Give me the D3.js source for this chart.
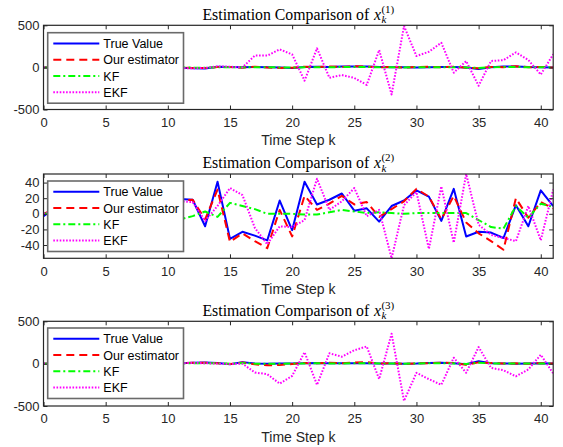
<!DOCTYPE html>
<html><head><meta charset="utf-8">
<script src="https://cdn.jsdelivr.net/npm/d3@7"></script>
<style>body{margin:0;background:#fff}svg{display:block}</style>
</head><body><svg id="c" width="563" height="447"></svg>
<script>
// ---- data ----
const steps = [0,1,2,3,4,5,6,7,8,9,10,11,12,13,14,15,16,17,18,19,20,21,22,23,24,25,26,27,28,29,30,31,32,33,34,35,36,37,38,39,40,41];
const xTicks = [0,5,10,15,20,25,30,35,40];
const seriesNames = ["True Value","Our estimator","KF","EKF"];

// x^(1)
const true1 = [0,2,-3,4,6,-2,5,8,3,-4,6,-5,-10,-12,8,5,2,5,3,0,-8,5,8,6,10,12,10,5,3,2,0,3,6,5,0,-20,2,10,12,5,2,0];
const ours1 = [0,3,-2,6,4,-4,7,6,5,-2,4,-3,-6,-8,5,4,-3,8,-2,-6,-5,8,4,10,6,15,8,2,7,-3,5,8,2,9,-4,-10,6,3,15,2,6,-2];
const kf1   = [0,1,0,2,3,1,2,4,2,0,3,-1,-3,-4,2,3,0,2,1,0,-2,1,3,2,4,5,4,2,1,0,1,2,3,2,0,-6,1,4,5,2,1,0];
const ekf1  = [0,4,-6,8,10,-4,9,12,6,-8,10,-8,-10,-6,12,8,0,140,140,214,154,-158,226,-123,-91,-125,-208,206,-321,491,135,186,293,-63,75,-218,76,86,178,88,-85,155];
const yTicks1 = [-500,0,500];

// x^(2)
const true2 = [-3,8,-12,15,22,-5,10,-18,5,12,20,19,18,-16,41,-32,-23,-28,-34,17,-21,41,12,18,26,4,7,-10,10,17,30,22,-9,32,-29,-23,-24,-31,11,-16,30,10];
const ours2 = [0,6,-9,13,20,-3,12,-14,6,10,18,17,18,-7,31,-36,-25,-35,-44,5,-29,23,5,13,23,12,15,-4,6,16,32,22,-7,23,-11,-25,-35,-46,20,-5,15,7];
const kf2   = [0,2,-1,3,5,2,4,-2,1,3,4,-7,-3,3,-4,14,10,6,0,0,0,-1,-1,2,5,3,1,2,1,0,1,1,1,1,1,-8,-17,-19,10,-5,13,9];
const ekf2  = [0,5,-10,12,18,-6,9,-20,8,14,22,16,15,-9,10,33,24,-18,-39,-16,-17,-8,45,5,16,33,-3,5,-57,11,28,-45,35,-37,51,-14,-27,-31,-35,10,-34,31];
const yTicks2 = [-40,-20,0,20,40];

// x^(3)
const true3 = [0,3,5,-2,6,4,8,-3,5,7,4,5,12,15,8,-8,18,2,0,2,3,5,8,6,4,6,5,3,2,0,2,8,12,5,-8,28,5,3,0,2,5,3];
const ours3 = [0,4,6,-1,5,6,7,-2,4,8,5,6,10,12,5,-5,14,-8,-20,-15,-5,8,4,10,6,12,18,2,6,-3,4,6,10,8,-12,15,8,2,4,0,6,2];
const kf3   = [0,1,2,0,3,2,4,0,2,3,2,2,5,6,3,-2,7,0,-2,-1,1,3,4,3,2,4,5,2,1,0,2,4,6,3,-3,10,3,2,1,1,3,2];
const ekf3  = [0,5,8,-4,9,7,10,-6,8,9,6,5,8,5,0,-5,0,-104,-125,-236,-145,135,-250,122,82,158,203,-182,353,-440,-108,-183,-250,70,-108,196,-50,-78,-150,-68,105,-115];
const yTicks3 = [-500,0,500];

// ---- layout ----
const svg = d3.select("#c");
const L = 43.5, R = 553.2;
const panels = [
  {sup:"(1)", top:25.3, bottom:109.5, yDom:[-500,500], yTicks:yTicks1, series:[true1,ours1,kf1,ekf1], legTop:32.7},
  {sup:"(2)", top:174.0, bottom:258.3, yDom:[-57,51],  yTicks:yTicks2, series:[true2,ours2,kf2,ekf2], legTop:181.0},
  {sup:"(3)", top:321.3, bottom:406.0, yDom:[-500,500], yTicks:yTicks3, series:[true3,ours3,kf3,ekf3], legTop:328.0}
];
const styles = [
  {color:"#0000ff", dash:null},
  {color:"#ff0000", dash:"8,5"},
  {color:"#00ff00", dash:"7,3,2,3"},
  {color:"#ff00ff", dash:"1.6,1.6"}
];
const axisColor = "#262626";
const sansFont = "'Liberation Sans', Arial, Helvetica, sans-serif";
const serifFont = "'Liberation Serif', 'Times New Roman', serif";
const titleSize = 15.8;

const x = d3.scaleLinear().domain([0,41]).range([L,R]);

panels.forEach((p,pi) => {
  const y = d3.scaleLinear().domain(p.yDom).range([p.bottom,p.top]);
  const g = svg.append("g");
  const clipId = "clip"+pi;
  svg.append("defs").append("clipPath").attr("id",clipId)
    .append("rect").attr("x",L).attr("y",p.top).attr("width",R-L).attr("height",p.bottom-p.top);

  // data lines
  const line = d3.line().x((d,i)=>x(steps[i])).y(d=>y(d));
  const lg = g.append("g").attr("clip-path",`url(#${clipId})`);
  p.series.forEach((s,si) => {
    lg.append("path").datum(s).attr("d",line)
      .attr("fill","none").attr("stroke",styles[si].color)
      .attr("stroke-width",2).attr("stroke-dasharray",styles[si].dash)
      .attr("stroke-linejoin","round");
  });

  // axes
  const fmt = d => String(d);
  const bottomAx = d3.axisBottom(x).tickValues(xTicks).tickSize(-4).tickPadding(8).tickFormat(fmt);
  const topAx = d3.axisTop(x).tickValues(xTicks).tickSize(-4).tickFormat("");
  const leftAx = d3.axisLeft(y).tickValues(p.yTicks).tickSize(-4).tickPadding(4).tickFormat(fmt);
  const rightAx = d3.axisRight(y).tickValues(p.yTicks).tickSize(-4).tickFormat("");
  const axes = [
    g.append("g").attr("transform",`translate(0,${p.bottom})`).call(bottomAx),
    g.append("g").attr("transform",`translate(0,${p.top})`).call(topAx),
    g.append("g").attr("transform",`translate(${L},0)`).call(leftAx),
    g.append("g").attr("transform",`translate(${R},0)`).call(rightAx)
  ];
  axes.forEach(a => {
    a.select(".domain").remove();
    a.selectAll("line").attr("stroke",axisColor).attr("stroke-width",1);
    a.selectAll("text").attr("fill",axisColor).style("font-family",sansFont).style("font-size","13px");
  });
  g.append("rect").attr("x",L).attr("y",p.top).attr("width",R-L).attr("height",p.bottom-p.top)
    .attr("fill","none").attr("stroke",axisColor).attr("stroke-width",1.2);

  // x label
  g.append("text").attr("x",(L+R)/2).attr("y",p.bottom+35.5).attr("text-anchor","middle")
    .attr("fill",axisColor).style("font-family",sansFont).style("font-size","14px").text("Time Step k");

  // title
  const tb = p.top - 5.8;
  const tg = g.append("g");
  const t1 = tg.append("text").attr("x",0).attr("y",tb).style("font-family",serifFont).style("font-size",titleSize+"px")
    .attr("fill","#000").text("Estimation Comparison of");
  const w1 = t1.node().getComputedTextLength() + titleSize*0.3;
  const tx = tg.append("text").attr("x",w1).attr("y",tb).style("font-family",serifFont).style("font-size",titleSize+"px")
    .style("font-style","italic").attr("fill","#000").text("x");
  const wx = tx.node().getComputedTextLength();
  tg.append("text").attr("x",w1+wx+0.5).attr("y",tb+3.5).style("font-family",serifFont).style("font-size","11px")
    .style("font-style","italic").attr("fill","#000").text("k");
  const ts = tg.append("text").attr("x",w1+wx+0.5).attr("y",tb-7).style("font-family",serifFont).style("font-size","11px")
    .attr("fill","#000").text(p.sup);
  const wsup = ts.node().getComputedTextLength();
  const total = w1+wx+0.5+wsup;
  tg.attr("transform",`translate(${(L+R)/2 - total/2},0)`);

  // legend
  const lx = 47.7, lw = 135.8, lh = 70.5;
  const leg = g.append("g");
  leg.append("rect").attr("x",lx).attr("y",p.legTop).attr("width",lw).attr("height",lh)
    .attr("fill","#fff").attr("stroke","#6a6a6a").attr("stroke-width",1.6);
  seriesNames.forEach((name,si) => {
    const ry = p.legTop + 10.7 + si*16.3;
    leg.append("line").attr("x1",53.3).attr("x2",99.3).attr("y1",ry).attr("y2",ry)
      .attr("stroke",styles[si].color).attr("stroke-width",2).attr("stroke-dasharray",styles[si].dash);
    leg.append("text").attr("x",103.3).attr("y",ry).attr("dy","0.36em")
      .attr("fill","#000").style("font-family",sansFont).style("font-size","12.5px").text(name);
  });
});
</script>
</body></html>
